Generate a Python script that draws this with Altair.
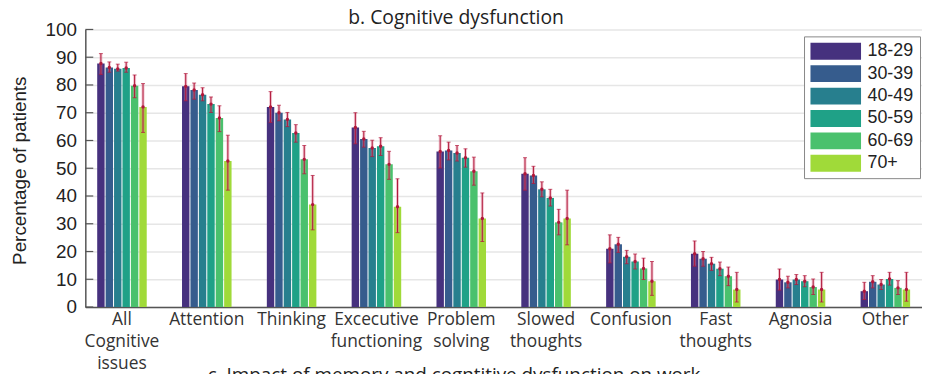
import altair as alt
import pandas as pd

categories = ["All\nCognitive\nissues", "Attention", "Thinking", "Excecutive\nfunctioning",
              "Problem\nsolving", "Slowed\nthoughts", "Confusion", "Fast\nthoughts", "Agnosia", "Other"]
age_groups = ["18-29", "30-39", "40-49", "50-59", "60-69", "70+"]
colors = ["#46317e", "#365c8d", "#277f8e", "#1fa187", "#4ac16d", "#a0da39"]

values = [
    [87.7, 86.3, 85.8, 86.1, 79.7, 72.1],
    [79.5, 78.2, 76.5, 73.1, 68.1, 52.6],
    [72.1, 70.0, 67.6, 62.7, 53.2, 36.9],
    [64.7, 60.5, 57.3, 57.9, 51.4, 36.1],
    [56.0, 56.4, 55.5, 53.8, 48.9, 31.9],
    [48.0, 47.4, 42.4, 39.3, 30.5, 31.9],
    [21.0, 22.6, 18.1, 16.4, 13.9, 9.3],
    [19.2, 17.4, 15.6, 13.8, 11.1, 6.3],
    [9.9, 8.9, 9.9, 9.3, 7.2, 6.3],
    [5.7, 9.1, 8.1, 10.1, 6.9, 6.3],
]
err_high = [
    [91.3, 88.3, 87.5, 88.2, 83.6, 80.5],
    [84.1, 80.7, 79.0, 75.7, 72.5, 61.9],
    [77.6, 72.7, 70.1, 65.7, 58.2, 47.4],
    [70.0, 63.3, 60.1, 61.0, 56.1, 46.2],
    [61.7, 59.4, 58.2, 57.0, 54.0, 41.1],
    [53.8, 50.7, 45.1, 42.4, 35.2, 42.1],
    [26.0, 25.1, 20.4, 19.1, 17.6, 16.4],
    [23.8, 20.0, 17.9, 16.2, 14.4, 12.5],
    [13.7, 11.1, 11.7, 11.3, 10.1, 12.5],
    [8.9, 11.3, 9.9, 12.5, 9.5, 12.5],
]
err_low = [
    [83.8, 84.6, 85.0, 84.6, 75.4, 62.9],
    [74.3, 74.9, 74.3, 70.1, 63.2, 42.1],
    [66.5, 67.1, 65.0, 59.4, 48.0, 27.8],
    [58.8, 57.6, 54.2, 54.6, 46.0, 26.8],
    [50.1, 53.0, 52.6, 50.4, 43.9, 23.6],
    [42.1, 44.5, 39.7, 36.4, 26.0, 22.4],
    [15.9, 19.7, 15.6, 13.7, 9.9, 4.2],
    [14.7, 14.7, 13.2, 11.3, 7.7, 1.8],
    [6.1, 6.9, 8.1, 7.3, 4.5, 1.8],
    [2.7, 6.9, 6.3, 7.9, 4.5, 2.1],
]
y_ticks = [0, 10, 20, 30, 40, 50, 60, 70, 80, 90, 100]
chart_title = "b. Cognitive dysfunction"
next_panel_title = "c. Impact of memory and cogntitive dysfunction on work"

rows = []
for ci, cat in enumerate(categories):
    for ai, age in enumerate(age_groups):
        rows.append({"category": cat, "age": age, "value": values[ci][ai],
                     "lo": err_low[ci][ai], "hi": err_high[ci][ai]})
df = pd.DataFrame(rows)

X = alt.X("category:N", sort=categories,
          scale=alt.Scale(paddingInner=0.416, paddingOuter=0.14),
          axis=alt.Axis(title=None, labelAngle=0, ticks=False, domain=True,
                        domainColor="#555", domainWidth=1.5, grid=False,
                        labelExpr="split(datum.value, '\\n')",
                        labelFont="Open Sans", labelFontSize=17.5, labelColor="#333",
                        labelLineHeight=22, labelPadding=4))
XO = alt.XOffset("age:N", sort=age_groups, scale=alt.Scale(paddingInner=0.12))
Y_SCALE = alt.Scale(domain=[0, 100], nice=False)
Y_AXIS = alt.Axis(values=y_ticks, grid=True, gridColor="#e6e6e6", gridWidth=1.5,
                  ticks=False, domain=True, domainColor="#555", domainWidth=1.5,
                  labelFont="Liberation Sans", labelFontSize=19, labelColor="#222",
                  labelPadding=9, labelOverlap=False, labelFlush=False,
                  title="Percentage of patients", titleFont="Liberation Sans",
                  titleFontSize=19, titleFontWeight="normal", titleColor="#222",
                  titleAngle=270, titleAlign="center", titleBaseline="middle",
                  titleX=-66, titleY=142)

base = alt.Chart(df).encode(x=X, xOffset=XO)

bars = base.mark_bar().encode(
    y=alt.Y("value:Q", scale=Y_SCALE, axis=Y_AXIS),
    color=alt.Color("age:N", sort=age_groups,
                    scale=alt.Scale(domain=age_groups, range=colors),
                    legend=alt.Legend(title=None, orient="none", legendX=725, legendY=7,
                                      strokeColor="#888", fillColor="white", padding=6,
                                      symbolType="M-1,-1H5V1H-1Z", symbolSize=289,
                                      symbolStrokeWidth=0, symbolOpacity=1,
                                      labelFont="Liberation Sans", labelFontSize=18,
                                      labelColor="#222", labelOffset=40, rowPadding=4.6)),
)

halo = base.mark_rule(color="#e07a95", strokeWidth=3, opacity=0.45).encode(
    y=alt.Y("lo:Q", scale=Y_SCALE, axis=Y_AXIS), y2="hi:Q")
err = base.mark_rule(color="#b0173a", strokeWidth=1).encode(
    y=alt.Y("lo:Q", scale=Y_SCALE, axis=Y_AXIS), y2="hi:Q")
cap_hi = base.mark_tick(color="#b0173a", thickness=1, size=4).encode(
    y=alt.Y("hi:Q", scale=Y_SCALE, axis=Y_AXIS))
cap_lo = base.mark_tick(color="#b0173a", thickness=1, size=4).encode(
    y=alt.Y("lo:Q", scale=Y_SCALE, axis=Y_AXIS))
dots = base.mark_circle(color="#b0173a", size=12, opacity=1).encode(
    y=alt.Y("value:Q", scale=Y_SCALE, axis=Y_AXIS))

inner_ticks = alt.Chart(pd.DataFrame({"t": y_ticks})).mark_rule(
    color="#555", strokeWidth=1.2).encode(
    y=alt.Y("t:Q", scale=Y_SCALE, axis=Y_AXIS), x=alt.value(0), x2=alt.value(8))

title_text = alt.Chart(pd.DataFrame({"t": [chart_title]})).mark_text(
    font="Open Sans", fontSize=19.5, color="#222", baseline="alphabetic", align="center").encode(
    text="t:N", x=alt.value(374), y=alt.value(-6))

next_title = alt.Chart(pd.DataFrame({"t": [next_panel_title]})).mark_text(
    font="Open Sans", fontSize=19, color="#222", baseline="top", align="center").encode(
    text="t:N", x=alt.value(372), y=alt.value(340))

chart = alt.layer(bars, halo, err, cap_hi, cap_lo, dots, inner_ticks, title_text, next_title).properties(
    width=844, height=280,
    autosize=alt.AutoSizeParams(type="none"),
    padding={"left": 78, "top": 20, "right": 0, "bottom": 74},
).configure_view(stroke=None).configure_axis(labelOverlap=False)

chart.save("out.html", embed_options={"renderer": "svg", "actions": False})
